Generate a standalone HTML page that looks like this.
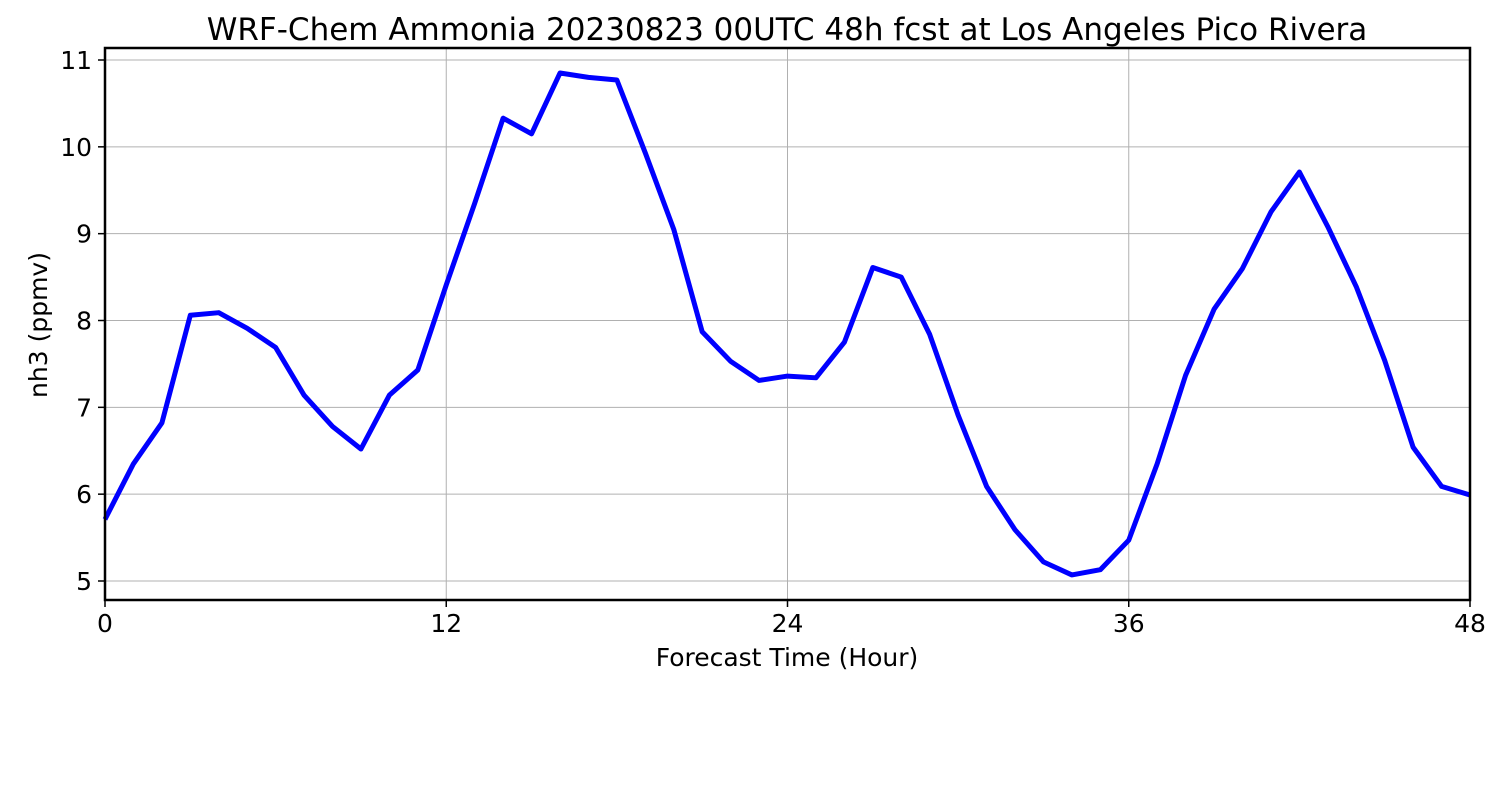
<!DOCTYPE html>
<html><head><meta charset="utf-8"><style>
body{margin:0;background:#fff;}
svg text{font-family:"DejaVu Sans","Liberation Sans",sans-serif;fill:#000;}
</style></head><body>
<svg width="1500" height="800">
<g id="grid"></g>
<polyline id="line" fill="none" stroke="#0000ff" stroke-width="5" stroke-linejoin="round"/>
<rect x="105" y="48" width="1365" height="552" fill="none" stroke="#000" stroke-width="2.5"/>
<g id="ticks"></g>
<text x="787" y="40" font-size="31" text-anchor="middle">WRF-Chem Ammonia  20230823 00UTC 48h fcst at Los Angeles Pico Rivera</text>
<text x="787" y="666" font-size="25" text-anchor="middle">Forecast Time (Hour)</text>
<text transform="translate(47,325) rotate(-90)" font-size="25" text-anchor="middle">nh3  (ppmv)</text>
</svg>
<script>
const hours=[0,1,2,3,4,5,6,7,8,9,10,11,12,13,14,15,16,17,18,19,20,21,22,23,24,25,26,27,28,29,30,31,32,33,34,35,36,37,38,39,40,41,42,43,44,45,46,47,48];
const nh3=[5.71,6.35,6.82,8.06,8.09,7.91,7.69,7.14,6.78,6.52,7.14,7.43,8.41,9.35,10.33,10.15,10.85,10.80,10.77,9.93,9.05,7.87,7.53,7.31,7.36,7.34,7.75,8.61,8.50,7.84,6.91,6.09,5.59,5.22,5.07,5.13,5.47,6.35,7.37,8.13,8.60,9.25,9.71,9.08,8.39,7.54,6.54,6.09,5.99];
const xTicks=[0,12,24,36,48];
const yTicks=[5,6,7,8,9,10,11];
const X=v=>105+v*(1365/48);
const Y=v=>581-(v-5)*(521/6);
const ns="http://www.w3.org/2000/svg";
const grid=document.getElementById('grid'),ticks=document.getElementById('ticks');
function mk(tag,attrs,parent){const e=document.createElementNS(ns,tag);for(const k in attrs)e.setAttribute(k,attrs[k]);parent.appendChild(e);return e;}
xTicks.forEach(t=>{
 const g=mk('line',{x1:X(t),x2:X(t),y1:48,y2:600,stroke:'#b0b0b0','stroke-width':1},grid);
 
 
 const tk=mk('line',{x1:X(t),x2:X(t),y1:600,y2:607,stroke:'#000','stroke-width':1.5},ticks);
 
 
 const l=mk('text',{x:X(t),y:632,'font-size':25,'text-anchor':'middle'},ticks);l.textContent=t;
 
 
});
yTicks.forEach(t=>{
 const g=mk('line',{x1:105,x2:1470,y1:Y(t),y2:Y(t),stroke:'#b0b0b0','stroke-width':1},grid);
 
 
 const tk=mk('line',{x1:98,x2:105,y1:Y(t),y2:Y(t),stroke:'#000','stroke-width':1.5},ticks);
 
 
 const l=mk('text',{x:92,y:Y(t)+9,'font-size':25,'text-anchor':'end'},ticks);l.textContent=t;
 
 
});
document.getElementById('line').setAttribute('points',hours.map((h,i)=>X(h)+','+Y(nh3[i])).join(' '));
</script>
</body></html>
